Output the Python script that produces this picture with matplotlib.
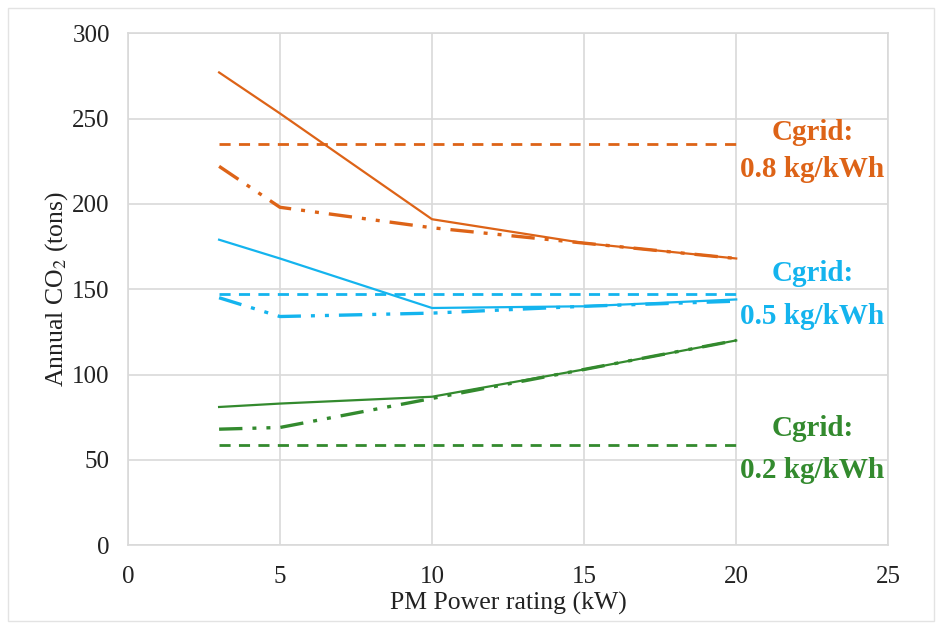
import matplotlib
matplotlib.use("Agg")
import matplotlib.pyplot as plt
from matplotlib.patches import Rectangle

plt.rcParams['font.family'] = ['Liberation Serif', 'DejaVu Serif']
plt.rcParams['mathtext.fontset'] = 'stix'

# Dados
potencia = [3, 5, 10, 15, 20]

laranja_solida = [277, 253, 191, 177, 168]
laranja_traco = [235, 235, 235, 235, 235]
laranja_pontos = [222, 198, 186, 177, 168]

azul_solida = [179, 168, 139, 140, 144]
azul_traco = [147, 147, 147, 147, 147]
azul_pontos = [145, 134, 136, 140, 143]

verde_solida = [81, 83, 87, 103, 120]
verde_traco = [59, 59, 59, 59, 59]
verde_pontos = [68, 69, 86, 103, 120]

rotulos_cgrid = ['0.8 kg/kWh', '0.5 kg/kWh', '0.2 kg/kWh']

laranja = '#DD6317'
azul = '#14B4EE'
verde = '#338A2E'
cinza = '#D9D9D9'

fig = plt.figure(figsize=(9.4, 6.26), dpi=100)
ax = fig.add_axes([0.136, 0.129, 0.809, 0.818])

# Moldura externa do gráfico
fig.patches.append(Rectangle((0.009, 0.008), 0.985, 0.98, transform=fig.transFigure,
                             fill=False, edgecolor='#E3E3E3', linewidth=1))

traco_ponto = (0, (7, 3, 1.2, 3, 1.2, 3))
series = [
    (laranja_solida, laranja_traco, laranja_pontos, laranja),
    (azul_solida, azul_traco, azul_pontos, azul),
    (verde_solida, verde_traco, verde_pontos, verde),
]
for solida, traco, pontos, cor in series:
    ax.plot(potencia, solida, color=cor, linewidth=1.6, linestyle='-')
    ax.plot(potencia, traco, color=cor, linewidth=2, linestyle=(0, (4, 3)))
    ax.plot(potencia, pontos, color=cor, linewidth=2.4, linestyle=traco_ponto)

ax.set_xlim(0, 25)
ax.set_ylim(0, 300)
ax.set_xticks([0, 5, 10, 15, 20, 25])
ax.set_yticks([0, 50, 100, 150, 200, 250, 300])
ax.grid(True, color=cinza, linewidth=1.2)
ax.set_axisbelow(True)
for s in ax.spines.values():
    s.set_color(cinza)
    s.set_linewidth(1.2)
ax.tick_params(length=0, labelsize=18, colors='#222222')
ax.tick_params(axis='x', pad=15)
ax.tick_params(axis='y', pad=13)

ax.set_xlabel('PM Power rating (kW)', fontsize=18.5, labelpad=3, color='#222222')
ax.set_ylabel('Annual CO$_2$ (tons)', fontsize=18.5, labelpad=2, color='#222222')

# Anotações Cgrid
posicoes = [(242, 220), (159, 134), (68.5, 44)]
cores = [laranja, azul, verde]
for (y1, y2), rotulo, cor in zip(posicoes, rotulos_cgrid, cores):
    ax.text(22.5, y1, 'Cgrid:', color=cor, fontsize=21, fontweight='bold',
            ha='center', va='center', clip_on=False)
    ax.text(22.5, y2, rotulo, color=cor, fontsize=21, fontweight='bold',
            ha='center', va='center', clip_on=False)

fig.savefig('out.png', dpi=100)
